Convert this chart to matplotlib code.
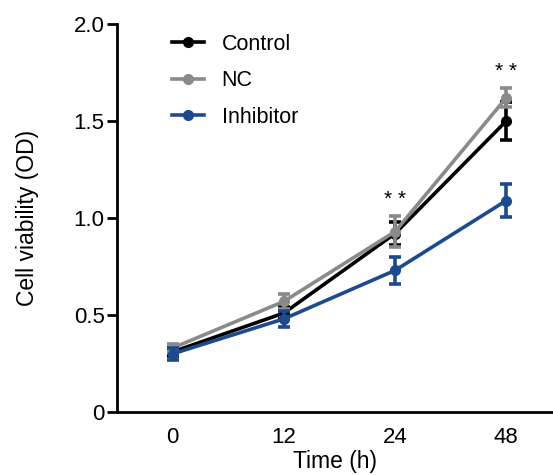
import numpy as np
import matplotlib
matplotlib.use('Agg')
import matplotlib.pyplot as plt
from matplotlib.lines import Line2D

plt.rcParams['font.family'] = ['Liberation Sans', 'DejaVu Sans']

# data
times = ['0', '12', '24', '48']
control = [0.31, 0.51, 0.92, 1.50]
control_err = [0.02, 0.03, 0.06, 0.10]
nc = [0.33, 0.57, 0.93, 1.62]
nc_err = [0.02, 0.04, 0.08, 0.05]
inhibitor = [0.30, 0.48, 0.73, 1.09]
inhibitor_err = [0.03, 0.04, 0.07, 0.085]
sig_labels = ['', '', '* *', '* *']

x = np.arange(len(times))

fig = plt.figure(figsize=(5.53, 4.75), dpi=100)
ax = fig.add_axes([0.2116, 0.1326, 0.7884, 0.8169])

series = [
    ('Control', control, control_err, '#000000'),
    ('NC', nc, nc_err, '#8a8a8a'),
    ('Inhibitor', inhibitor, inhibitor_err, '#1c4a91'),
]
order = [2, 0, 1]  # inhibitor underneath
for i in order:
    name, vals, err, col = series[i]
    ax.errorbar(x, vals, yerr=err, color=col, lw=2.6, marker='o', ms=7,
                capsize=4, capthick=2.6, elinewidth=2.6, zorder=3 + i)

# significance stars above the highest error bar
for i, lab in enumerate(sig_labels):
    if lab:
        top = max(control[i] + control_err[i], nc[i] + nc_err[i], inhibitor[i] + inhibitor_err[i])
        ax.annotate(lab, (x[i], top), xytext=(0, 5), textcoords='offset points',
                    ha='center', va='bottom', fontsize=15)

ax.set_xlim(-0.5, 3.42)
ax.set_ylim(0, 2.0)
ax.set_xticks(x)
ax.set_xticklabels(times)
ax.set_yticks([0, 0.5, 1.0, 1.5, 2.0])
ax.set_yticklabels(['0', '0.5', '1.0', '1.5', '2.0'])
ax.tick_params(axis='y', direction='out', length=7, width=2, labelsize=16, pad=2)
ax.tick_params(axis='x', length=0, labelsize=16, pad=11)
for s in ['top', 'right']:
    ax.spines[s].set_visible(False)
for s in ['left', 'bottom']:
    ax.spines[s].set_linewidth(2)

ax.set_xlabel('Time (h)', fontsize=16.5, labelpad=1)
ax.set_ylabel('Cell viability (OD)', fontsize=16.5)
ax.yaxis.set_label_coords(-0.18, 0.5)

handles = [Line2D([], [], color=s[3], lw=2.6, marker='o', ms=7) for s in series]
ax.legend(handles, [s[0] for s in series], loc='upper left',
          bbox_to_anchor=(0.082, 1.025), frameon=False, fontsize=15.5,
          handlelength=1.5, labelspacing=0.72, handletextpad=0.8)

fig.savefig('out.png', dpi=100)
